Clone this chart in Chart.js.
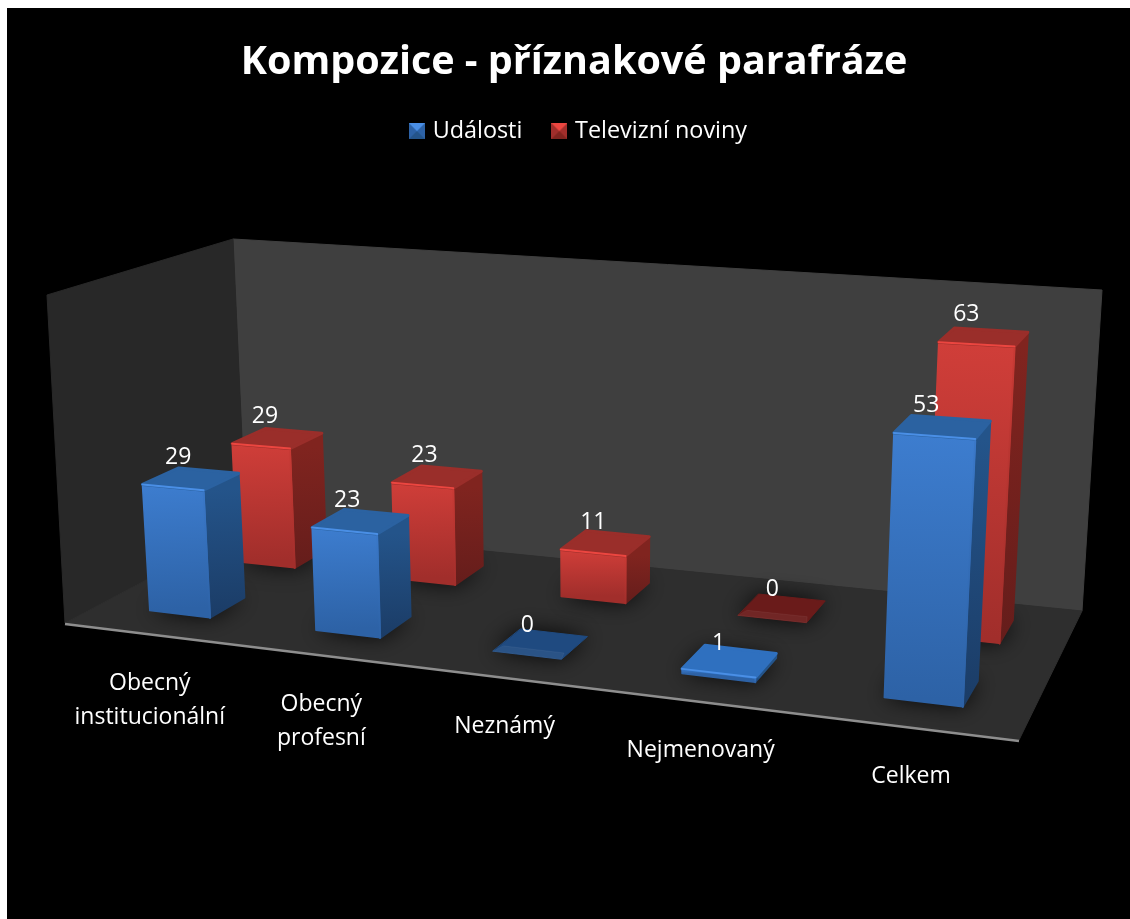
<!DOCTYPE html>
<html>
<head>
<meta charset="utf-8">
<title>Kompozice - příznakové parafráze</title>
<script src="https://cdn.jsdelivr.net/npm/chart.js@4"></script>
<style>
  html, body { margin: 0; padding: 0; background: #fff; overflow: hidden; }
  canvas { display: block; }
</style>
</head>
<body>
<canvas id="chart" width="1130" height="919"></canvas>
<script>
// Data
const chartTitle = 'Kompozice - příznakové parafráze';
const categories = [['Obecný', 'institucionální'], ['Obecný', 'profesní'], ['Neznámý'], ['Nejmenovaný'], ['Celkem']];
const udalosti = [29, 23, 0, 1, 53];
const televizniNoviny = [29, 23, 11, 0, 63];
const seriesNames = ['Události', 'Televizní noviny'];

// Vzhled
const FONT = '"Open Sans", sans-serif';
const blue = { front: ['#3d7dcf', '#2d62a6'], side: ['#24548a', '#1b3c66'], top: '#2b62a1', edge: '#4a8fe6', rim: '#3a78c8', flat: '#1f4a80', low: '#2f70bf' };
const red = { front: ['#d03e39', '#a12e2b'], side: ['#80241f', '#651d1b'], top: '#9a2e2a', edge: '#ec4640', rim: '#c83a35', flat: '#6a1b1a', low: '#c0352f' };
const looks = [blue, red];
const depths = [[0.17, 0.36], [0.66, 0.86]];

// Rohy podlahy a sten v obraze (perspektiva)
const floorQuad = [[65, 623], [1019, 740], [1082, 611], [246, 527]];
const wallTopBackLeft = [233, 239];
const wallTopBackRight = [1102, 290];
const wallTopFrontLeft = [47, 295];

function buildCamera() {
  const [p0, p1, p2, p3] = floorQuad;
  const dx1 = p1[0] - p2[0], dx2 = p3[0] - p2[0], sx = p0[0] - p1[0] + p2[0] - p3[0];
  const dy1 = p1[1] - p2[1], dy2 = p3[1] - p2[1], sy = p0[1] - p1[1] + p2[1] - p3[1];
  const den = dx1 * dy2 - dx2 * dy1;
  const g = (sx * dy2 - dx2 * sy) / den;
  const h = (dx1 * sy - sx * dy1) / den;
  const a = p1[0] - p0[0] + g * p1[0], b = p3[0] - p0[0] + h * p3[0], c = p0[0];
  const d = p1[1] - p0[1] + g * p1[1], e = p3[1] - p0[1] + h * p3[1], f = p0[1];
  const base = (u, w) => [a * u + b * w + c, d * u + e * w + f, g * u + h * w + 1];
  const bA = base(0, 1), bB = base(1, 1), bC = base(0, 0);
  const rA = wallTopBackLeft[0] * bA[2] - bA[0];
  const rB = wallTopBackRight[0] * bB[2] - bB[0];
  const cz = (rA - rB) / (wallTopBackRight[0] - wallTopBackLeft[0]);
  const cx = rA + wallTopBackLeft[0] * cz;
  const cy = (wallTopBackLeft[1] * (bA[2] + cz) - bA[1]
    + wallTopBackRight[1] * (bB[2] + cz) - bB[1]
    + wallTopFrontLeft[1] * (bC[2] + cz) - bC[1]) / 3;
  return (u, w, z) => {
    const p = base(u, w);
    return [(p[0] + cx * z) / (p[2] + cz * z), (p[1] + cy * z) / (p[2] + cz * z)];
  };
}
const project = buildCamera();

function poly(ctx, pts) {
  ctx.beginPath();
  pts.forEach((p, i) => i ? ctx.lineTo(p[0], p[1]) : ctx.moveTo(p[0], p[1]));
  ctx.closePath();
}

function fillPoly(ctx, pts, fill, round) {
  poly(ctx, pts);
  ctx.fillStyle = fill;
  ctx.fill();
  ctx.strokeStyle = fill;
  ctx.lineWidth = round || 1;
  ctx.lineJoin = 'round';
  ctx.stroke();
}

function vGrad(ctx, from, to, cols) {
  const gr = ctx.createLinearGradient(from[0], from[1], to[0], to[1]);
  gr.addColorStop(0, cols[0]);
  gr.addColorStop(1, cols[1]);
  return gr;
}

function drawRoom(ctx) {
  const backRight = project(1, 1, 0), backLeft = project(0, 1, 0);
  const frontLeft = project(0, 0, 0), frontRight = project(1, 0, 0);
  fillPoly(ctx, [wallTopBackLeft, wallTopBackRight, backRight, backLeft], '#3f3f3f');
  fillPoly(ctx, [wallTopFrontLeft, wallTopBackLeft, backLeft, frontLeft], '#282828');
  fillPoly(ctx, [frontLeft, frontRight, backRight, backLeft], '#2e2e2e');
  ctx.beginPath();
  ctx.moveTo(frontLeft[0], frontLeft[1] + 1);
  ctx.lineTo(frontRight[0], frontRight[1] + 1);
  ctx.strokeStyle = '#8e8e8e';
  ctx.lineWidth = 2.5;
  ctx.stroke();
}

function drawBar(ctx, u0, u1, w0, w1, z, value, look) {
  const fl = project(u0, w0, 0), fr = project(u1, w0, 0), br = project(u1, w1, 0), bl = project(u0, w1, 0);
  const tfl = project(u0, w0, z), tfr = project(u1, w0, z), tbr = project(u1, w1, z), tbl = project(u0, w1, z);

  // stin na podlaze
  ctx.save();
  ctx.shadowColor = 'rgba(0,0,0,0.85)';
  ctx.shadowBlur = 22;
  poly(ctx, [fl, fr, br, bl]);
  ctx.fillStyle = '#1c1c1c';
  ctx.fill();
  ctx.restore();

  if (value === 0) {
    // prazdny sloupec: jen plocha s jemnymi facetami
    fillPoly(ctx, [tfl, tfr, tbr, tbl], look.flat);
    const du = (u1 - u0) * 0.06, dw = (w1 - w0) * 0.25;
    fillPoly(ctx, [tfl, tfr, project(u1 - du, w0 + dw, 0), project(u0 + du, w0 + dw, 0)], 'rgba(255,255,255,0.05)');
    return;
  }
  fillPoly(ctx, [fr, br, tbr, tfr], vGrad(ctx, tfr, fr, look.side), 2);
  fillPoly(ctx, [fl, fr, tfr, tfl], vGrad(ctx, tfl, fl, look.front), 1.5);
  fillPoly(ctx, [tfl, tfr, tbr, tbl], value < 3 ? look.low : look.top, 3);

  // zkosene hrany
  ctx.lineCap = 'round';
  ctx.strokeStyle = look.edge;
  ctx.lineWidth = 2;
  ctx.beginPath();
  ctx.moveTo(tfl[0], tfl[1]);
  ctx.lineTo(tfr[0], tfr[1]);
  ctx.stroke();
  ctx.strokeStyle = vGrad(ctx, tfr, fr, [look.rim, look.front[1]]);
  ctx.lineWidth = 2;
  ctx.beginPath();
  ctx.moveTo(tfr[0], tfr[1] + 2);
  ctx.lineTo(fr[0], fr[1]);
  ctx.stroke();
}

function legendMarker(look) {
  const c = document.createElement('canvas');
  c.width = 16;
  c.height = 16;
  const m = c.getContext('2d');
  m.fillStyle = look.front[1];
  m.fillRect(0, 0, 16, 16);
  m.fillStyle = look.edge;
  m.beginPath(); m.moveTo(0, 0); m.lineTo(16, 0); m.lineTo(8, 8); m.fill();
  m.fillStyle = look.side[0];
  m.beginPath(); m.moveTo(0, 16); m.lineTo(16, 16); m.lineTo(8, 8); m.fill();
  return c;
}

const scene3d = {
  id: 'scene3d',
  afterLayout(chart) {
    chart.legend.left += 12;
  },
  beforeDraw(chart) {
    const ctx = chart.ctx;
    ctx.save();
    ctx.fillStyle = '#000';
    ctx.fillRect(7, 8, chart.width - 7, chart.height - 8);
    ctx.restore();
  },
  // sloupce se kresli ve 3D z pozic, ktere spocitaly osy Chart.js
  beforeDatasetsDraw(chart) {
    const ctx = chart.ctx;
    const x = chart.scales.x, y = chart.scales.y;
    const toU = px => (px - x.left) / (x.right - x.left);
    const toZ = px => (y.bottom - px) / (y.bottom - y.top);
    ctx.save();
    drawRoom(ctx);

    const labels = [];
    [1, 0].forEach(ds => {
      chart.getDatasetMeta(ds).data.forEach((el, i) => {
        const u0 = toU(el.x - el.width / 2), u1 = toU(el.x + el.width / 2);
        const z = toZ(el.y);
        const value = chart.data.datasets[ds].data[i];
        drawBar(ctx, u0, u1, depths[ds][0], depths[ds][1], z, value, looks[ds]);
        const l = project(u0, depths[ds][0], z * 0.25), r = project(u1, depths[ds][0], z * 0.25);
        const tl = project(u0, depths[ds][0], z), tr = project(u1, depths[ds][0], z);
        labels.push([String(value), (l[0] + r[0]) / 2, (tl[1] + tr[1]) / 2 - 30]);
      });
    });

    ctx.fillStyle = '#fff';
    ctx.textAlign = 'center';
    ctx.textBaseline = 'middle';
    ctx.font = '23px ' + FONT;
    labels.forEach(t => ctx.fillText(t[0], t[1], t[2]));

    // popisky kategorii podel predni hrany
    chart.data.labels.forEach((lab, i) => {
      const a = project(toU(x.getPixelForTick(i)), 0, 0);
      const lines = Array.isArray(lab) ? lab : [lab];
      lines.forEach((line, n) => ctx.fillText(line, a[0] + 3, a[1] + 50 + n * 34));
    });
    ctx.restore();
    return false;
  }
};

new Chart(document.getElementById('chart'), {
  type: 'bar',
  plugins: [scene3d],
  data: {
    labels: categories,
    datasets: [
      { label: seriesNames[0], data: udalosti, backgroundColor: blue.front[0], grouped: false },
      { label: seriesNames[1], data: televizniNoviny, backgroundColor: red.front[0], grouped: false }
    ]
  },
  options: {
    responsive: false,
    animation: false,
    devicePixelRatio: 1,
    layout: { padding: { left: 18, top: 39 } },
    datasets: { bar: { categoryPercentage: 1, barPercentage: 0.37 } },
    scales: {
      x: { display: false },
      y: { display: false, min: 0, max: 72 }
    },
    plugins: {
      tooltip: { enabled: false },
      title: {
        display: true,
        text: chartTitle,
        color: '#fff',
        font: { family: FONT, size: 39.5, weight: 'bold' },
        padding: { top: 0, bottom: 0 }
      },
      legend: {
        display: true,
        position: 'top',
        labels: {
          color: '#fff',
          font: { family: FONT, size: 23.4 },
          usePointStyle: true,
          boxWidth: 8,
          boxHeight: 16,
          padding: 33,
          generateLabels: () => seriesNames.map((name, i) => ({
            text: name,
            fontColor: '#fff',
            pointStyle: legendMarker(looks[i]),
            datasetIndex: i
          }))
        }
      }
    }
  }
});
</script>
</body>
</html>
